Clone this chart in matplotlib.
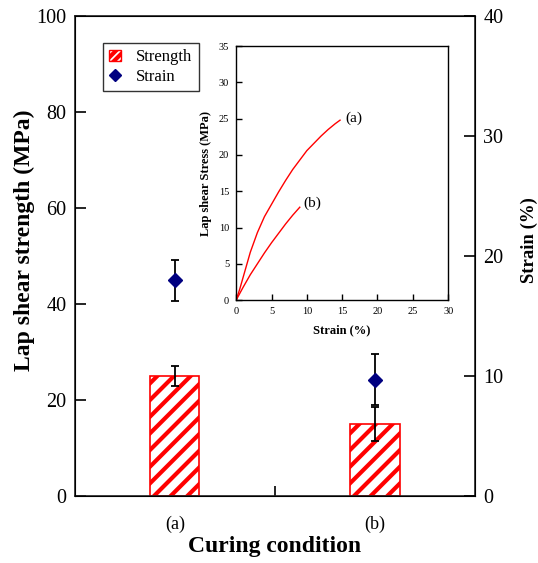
import numpy as np
import matplotlib
matplotlib.use('Agg')
import matplotlib.pyplot as plt
from matplotlib.patches import Patch
from matplotlib.lines import Line2D

plt.rcParams['font.family'] = ['Liberation Serif', 'DejaVu Serif']
plt.rcParams['hatch.linewidth'] = 3.0
plt.rcParams['hatch.color'] = 'red'

# main chart data
conditions = ['(a)', '(b)']
strength = [25.0, 15.0]
strength_err = [2.0, 3.6]
strain = [18.0, 9.7]
strain_err = [1.7, 2.1]

# inset stress-strain curves
strain_a = [0, 0.5, 1, 2, 3, 4, 5, 6, 7, 8, 9, 10, 11, 12, 13, 14, 14.7]
stress_a = [0, 1.5, 3.2, 6.6, 9.3, 11.5, 13.2, 14.9, 16.5, 18.0, 19.3, 20.6, 21.6, 22.6, 23.5, 24.3, 24.8]
strain_b = [0, 1, 2, 3, 4, 5, 6, 7, 8, 9]
stress_b = [0, 1.8, 3.5, 5.0, 6.5, 7.9, 9.2, 10.5, 11.7, 12.8]

fig = plt.figure(figsize=(5.38, 5.63), dpi=100)
ax = fig.add_axes([0.139, 0.119, 0.744, 0.852])
x = np.arange(len(conditions))

ax.bar(x, strength, width=0.245, color='white', edgecolor='red', hatch='//',
       linewidth=1.2, label='Strength', zorder=2)
ax.errorbar(x, strength, yerr=strength_err, fmt='none', ecolor='black',
            elinewidth=1.3, capsize=3, capthick=1.3, zorder=3)
ax.set_xlim(-0.5, 1.5)
ax.set_ylim(0, 100)
ax.set_yticks([0, 20, 40, 60, 80, 100])
ax.set_xticks(x)
ax.set_xticklabels(conditions)
ax.set_xticks([0.5], minor=True)
ax.tick_params(axis='x', which='major', length=0, pad=14, labelsize=13)
ax.tick_params(axis='x', which='minor', direction='in', length=7, width=1.2)
ax.tick_params(axis='y', direction='in', length=8, width=1.2, labelsize=14.5, pad=6)
ax.set_xlabel('Curing condition', fontsize=17, fontweight='bold', labelpad=2)
ax.set_ylabel('Lap shear strength (MPa)', fontsize=17, fontweight='bold')
ax.yaxis.set_label_coords(-0.1, 0.533)
for s in ax.spines.values():
    s.set_linewidth(1.2)
    s.set_color('#222222')

ax2 = ax.twinx()
ax2.errorbar(x, strain, yerr=strain_err, fmt='D', color='navy', markersize=7,
             ecolor='black', elinewidth=1.3, capsize=3, capthick=1.3, label='Strain')
ax2.set_ylim(0, 40)
ax2.set_yticks([0, 10, 20, 30, 40])
ax2.tick_params(axis='y', direction='in', length=8, width=1.2, labelsize=14.5, pad=6)
ax2.set_ylabel('Strain (%)', fontsize=13.5, fontweight='bold')
ax2.yaxis.set_label_coords(1.115, 0.533)

handles = [Patch(facecolor='white', edgecolor='red', hatch='////', label='Strength'),
           Line2D([], [], marker='D', color='navy', linestyle='none', markersize=6, label='Strain')]
leg = ax2.legend(handles=handles, loc='upper left', bbox_to_anchor=(0.07, 0.945),
                 borderaxespad=0, fontsize=12, frameon=True, fancybox=False,
                 edgecolor='black', handlelength=0.7, handleheight=0.7,
                 handletextpad=0.9, borderpad=0.4, labelspacing=0.2)
leg.get_frame().set_linewidth(1.0)

# inset
axi = fig.add_axes([0.439, 0.467, 0.394, 0.451])
axi.plot(strain_a, stress_a, color='red', linewidth=1.0)
axi.plot(strain_b, stress_b, color='red', linewidth=1.0)
axi.text(15.4, 25.0, '(a)', fontsize=11, va='center')
axi.text(9.5, 13.4, '(b)', fontsize=11, va='center')
axi.set_xlim(0, 30)
axi.set_ylim(0, 35)
axi.set_xticks(range(0, 31, 5))
axi.set_yticks(range(0, 36, 5))
axi.tick_params(direction='in', length=4, width=1.0, labelsize=7.5, pad=5)
axi.set_xlabel('Strain (%)', fontsize=9, fontweight='bold', labelpad=6)
axi.set_ylabel('Lap shear Stress (MPa)', fontsize=9, fontweight='bold', labelpad=5)
for s in axi.spines.values():
    s.set_linewidth(1.0)

fig.savefig('out.png', dpi=100)
